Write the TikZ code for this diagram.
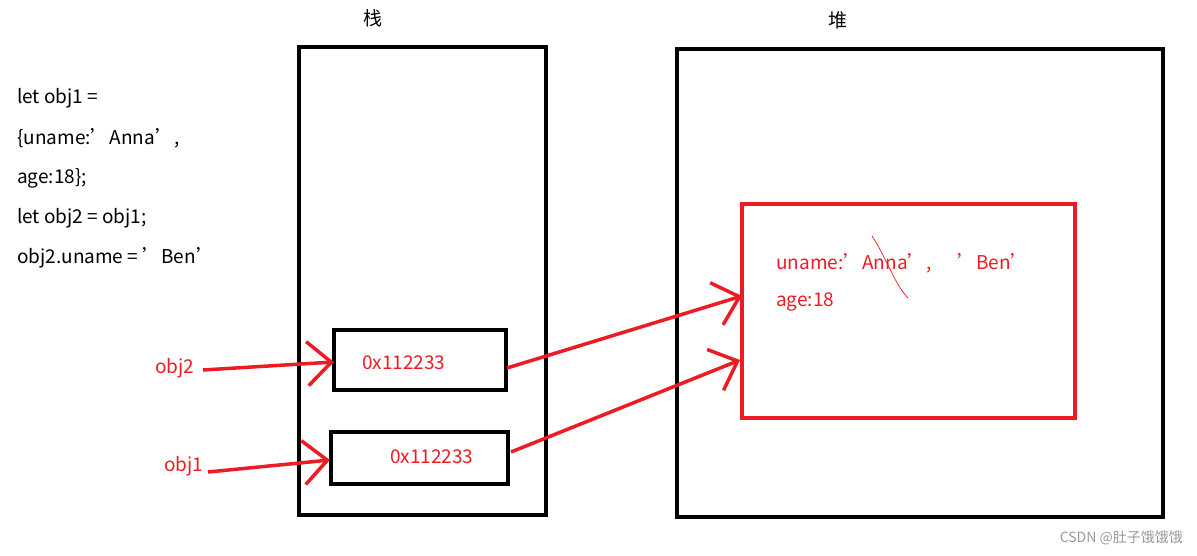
\documentclass[tikz,border=0pt]{standalone}
\usepackage{fontspec}
\setmainfont{Noto Sans CJK SC}
\usetikzlibrary{arrows.meta}
\definecolor{pred}{RGB}{237,28,36}
\begin{document}
\begin{tikzpicture}[x=1pt,y=-1pt,
  blk/.style={draw=black,line width=4pt},
  rbox/.style={draw=pred,line width=4pt},
  txt/.style={anchor=west,inner sep=0pt,font=\fontsize{19}{22}\selectfont},
  rtxt/.style={txt,text=pred},
  arr/.style={draw=pred,line width=3.5pt,-{Straight Barb[length=24pt,width=44pt,line width=3.5pt]}}]
\useasboundingbox (0,0) rectangle (1197,556);
\draw[blk] (299,47) rectangle (546,515);
\draw[blk] (677,49) rectangle (1163,517);
\draw[rbox] (742,204) rectangle (1075,418);
\node[draw=black,line width=4pt,minimum width=172pt,minimum height=60pt,inner sep=0pt] (s2) at (420,360) {};
\node[draw=black,line width=4pt,minimum width=177pt,minimum height=52pt,inner sep=0pt] (s1) at (419.5,458) {};
\node[rtxt] (v2) at (362,363) {0x112233};
\node[rtxt] (v1) at (390,457) {0x112233};
\node[txt,anchor=center] (zhan) at (373,18) {栈};
\node[txt,anchor=center] (dui) at (838,20) {堆};
\node[txt] (c1) at (17,98) {let obj1 =};
\node[txt] (c2) at (17,138) {\{uname:'Anna',};
\node[txt] (c3) at (17,178) {age:18\};};
\node[txt] (c4) at (17,218) {let obj2 = obj1;};
\node[txt] (c5) at (17,258) {obj2.uname = 'Ben'};
\node[rtxt] (o2) at (155,368) {obj2};
\node[rtxt] (o1) at (164,466) {obj1};
\node[rtxt] (h1) at (776,263) {uname:'Anna',};
\node[rtxt] (h2) at (957,262) {'Ben'};
\node[rtxt] (h3) at (776,302) {age:18};
\coordinate (a2s) at (203,370);
\coordinate (a2e) at (334,362);
\coordinate (a1s) at (208,472);
\coordinate (a1e) at (330,460);
\coordinate (b2s) at (507,368);
\coordinate (b2e) at (742,296);
\coordinate (b1s) at (511,452);
\coordinate (b1e) at (740,360);
\draw[arr] (a2s) -- (a2e);
\draw[arr] (a1s) -- (a1e);
\draw[arr] (b2s) -- (b2e);
\draw[arr] (b1s) -- (b1e);
\coordinate (k1) at (872,236);
\coordinate (k2) at (908,298);
\draw[pred,line width=0.7pt] (k1) .. controls (885,255) and (895,285) .. (k2);
\node[anchor=east,inner sep=0pt,text=gray!80,font=\fontsize{14}{16}\selectfont] (wm) at (1183,538) {CSDN @肚子饿饿饿};
\end{tikzpicture}
\end{document}
